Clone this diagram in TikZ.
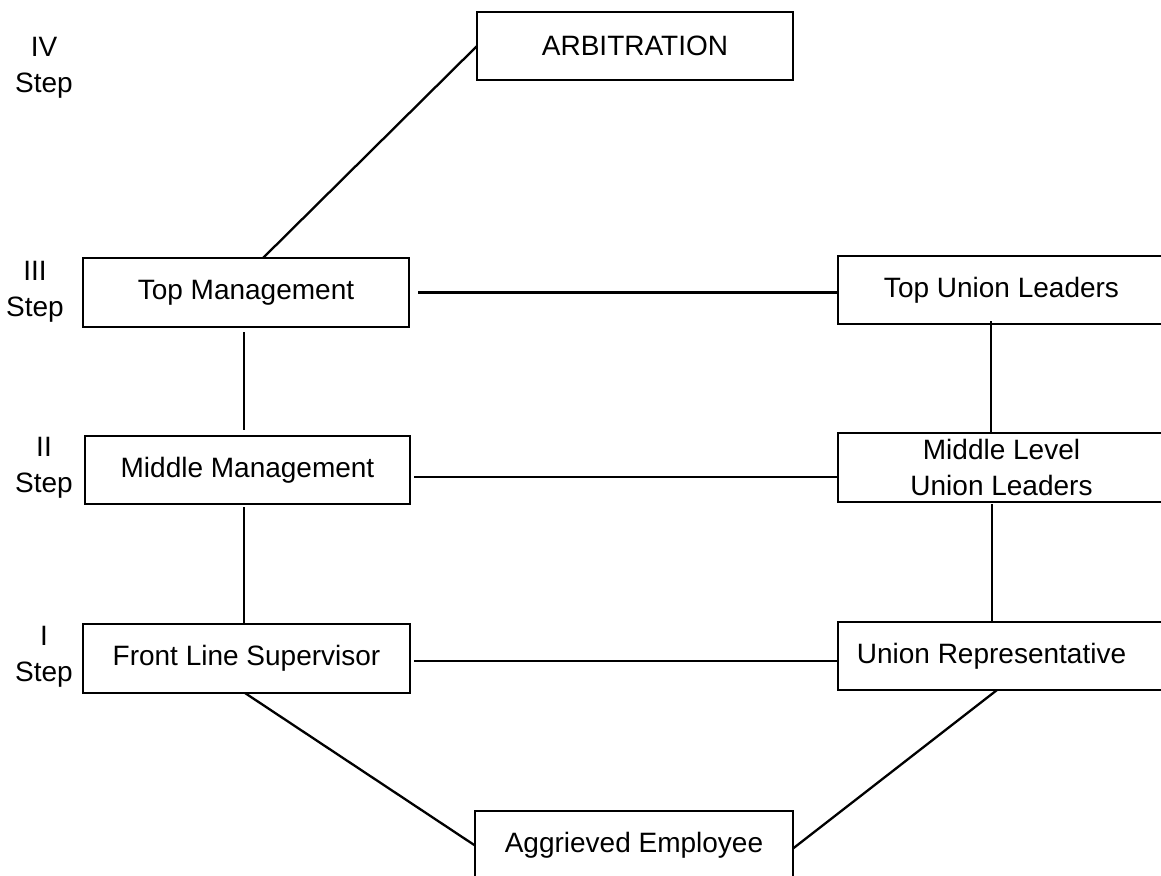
\documentclass[tikz,border=0pt]{standalone}
\usepackage{fontspec}
\setmainfont{Liberation Sans}
\usetikzlibrary{calc}
\begin{document}
\begin{tikzpicture}[x=1pt,y=-1pt,
  box/.style={draw, line width=2.3pt, rectangle, inner sep=0pt, outer sep=0pt,
    font=\fontsize{28}{36}\selectfont, align=center},
  steplbl/.style={font=\fontsize{28}{36}\selectfont, align=center, inner sep=0pt},
  conn/.style={line width=2.3pt}]
\useasboundingbox (0,0) rectangle (1161,875);
\clip (0,0) rectangle (1161,875);
% boxes
\node[box, minimum width=316pt, minimum height=68pt] (arb) at (635,46) {ARBITRATION};
\node[box, minimum width=326pt, minimum height=69pt] (tm) at (246,292.5) {Top Management};
\node[box, minimum width=327pt, minimum height=68pt] (tu) at (1001.5,290) {Top Union Leaders};
\node[box, minimum width=325pt, minimum height=68pt] (mm) at (247.5,470) {Middle Management};
\node[box, minimum width=327pt, minimum height=69pt] (ml) at (1001.5,467.5) {Middle Level\\Union Leaders};
\node[box, minimum width=327pt, minimum height=69pt] (fl) at (246.5,658.5) {Front Line Supervisor};
\node[box, minimum width=327pt, minimum height=68pt] (ur) at (1001.5,656) {\hspace*{-20pt}Union Representative};
\node[box, minimum width=318pt, minimum height=69pt] (ae) at (634,845.5) {Aggrieved Employee};
% step labels
\node[steplbl] (s4) at (44,68) {IV\\Step};
\node[steplbl] (s3) at (35,292) {III\\Step};
\node[steplbl] (s2) at (44,468) {II\\Step};
\node[steplbl] (s1) at (44,657) {I\\Step};
% connectors
\draw[conn] (arb.west) -- ($(tm.north)+(17,0)$);
\draw[conn] ($(tm.east)+(9,0)$) -- ($(tu.west)+(0,2.5)$);
\draw[conn] ($(mm.east)+(4,7)$) -- ($(ml.west)+(0,9.5)$);
\draw[conn] ($(fl.east)+(4,2.5)$) -- ($(ur.west)+(0,5)$);
\draw[conn] ($(tm.south)+(-2,5)$) -- ($(mm.north)+(-3.5,-6)$);
\draw[conn] ($(mm.south)+(-3.5,3)$) -- ($(fl.north)+(-2.5,0)$);
\draw[conn] ($(tu.south)+(-10.5,-3)$) -- ($(ml.north)+(-10.5,0)$);
\draw[conn] ($(ml.south)+(-9.5,2)$) -- ($(ur.north)+(-9.5,0)$);
\draw[conn] ($(fl.south)+(-1.5,0)$) -- (ae.west);
\draw[conn] ($(ae.east)+(0,3)$) -- ($(ur.south)+(-4.5,0)$);
\end{tikzpicture}
\end{document}
